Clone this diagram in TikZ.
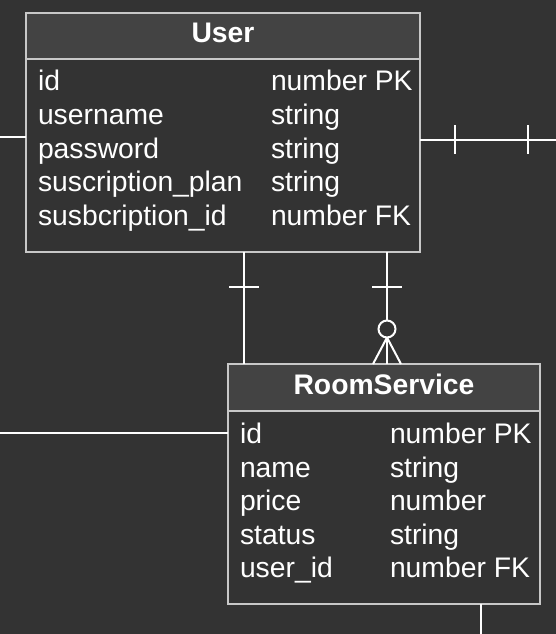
\documentclass[tikz,border=0pt]{standalone}
\usepackage{fontspec}
\setmainfont{Liberation Sans}
\begin{document}
\begin{tikzpicture}[x=1pt,y=-1pt,
  every node/.style={inner sep=0pt,outer sep=0pt},
  entity/.style={draw=bordergray,line width=2pt,fill=bodyfill},
  header/.style={draw=bordergray,line width=2pt,fill=headfill},
  conn/.style={draw=white,line width=2pt},
  tick/.style={draw=white,line width=2.5pt},
  field/.style={anchor=base west,text=white,font=\fontsize{28.3}{34}\selectfont},
  title/.style={anchor=base,text=white,font=\fontsize{28.3}{34}\selectfont\bfseries}]
\definecolor{bg}{HTML}{333333}
\definecolor{bodyfill}{HTML}{333333}
\definecolor{headfill}{HTML}{434343}
\definecolor{bordergray}{HTML}{C8C8C8}
\fill[bg] (0,0) rectangle (556,634);
\useasboundingbox (0,0) rectangle (556,634);
% User entity
\node[entity,minimum width=394pt,minimum height=239pt] (user) at (223,132.5) {};
\node[header,minimum width=394pt,minimum height=46pt] (userh) at (223,36) {};
\node[title] (usert) at (223,42.5) {User};
\node[field] (u1a) at (38,90.5) {id};
\node[field] (u1b) at (271,90.5) {number PK};
\node[field] (u2a) at (38,124.5) {username};
\node[field] (u2b) at (271,124.5) {string};
\node[field] (u3a) at (38,158) {password};
\node[field] (u3b) at (271,158) {string};
\node[field] (u4a) at (38,191.5) {suscription\_plan};
\node[field] (u4b) at (271,191.5) {string};
\node[field] (u5a) at (38,225) {susbcription\_id};
\node[field] (u5b) at (271,225) {number FK};
% RoomService entity
\node[entity,minimum width=312pt,minimum height=240pt] (rs) at (384,484) {};
\node[header,minimum width=312pt,minimum height=47pt] (rsh) at (384,387.5) {};
\node[title] (rst) at (384,394.5) {RoomService};
\node[field] (r1a) at (240,443.5) {id};
\node[field] (r1b) at (390,443.5) {number PK};
\node[field] (r2a) at (240,477) {name};
\node[field] (r2b) at (390,477) {string};
\node[field] (r3a) at (240,510.5) {price};
\node[field] (r3b) at (390,510.5) {number};
\node[field] (r4a) at (240,544) {status};
\node[field] (r4b) at (390,544) {string};
\node[field] (r5a) at (240,577.5) {user\_id};
\node[field] (r5b) at (390,577.5) {number FK};
% free ends
\coordinate (lu) at (0,137);
\coordinate (ru) at (556,139.5);
\coordinate (lr) at (0,433);
\coordinate (br) at (481,634);
\coordinate (v1) at (244,0);
\coordinate (v2) at (387,0);
% left of User
\draw[conn] (lu) -- (lu -| user.west);
% right of User with two bars
\draw[conn] (ru -| user.east) -- (ru);
\draw[tick] (455,125) -- (455,154);
\draw[tick] (528,125) -- (528,154);
% User to RoomService, one-one
\draw[conn] (v1 |- user.south) -- (v1 |- rs.north);
\draw[tick] (229,287) -- (259,287);
% User to RoomService, one to zero-or-many
\draw[conn] (v2 |- user.south) -- (387,320.5);
\draw[tick] (372,287) -- (402,287);
\draw[conn] (387,329) circle (8.5);
\draw[conn] (387,337.5) -- (v2 |- rs.north);
\draw[conn] (387,337.5) -- (373,364);
\draw[conn] (387,337.5) -- (401,364);
% left of RoomService
\draw[conn] (lr) -- (lr -| rs.west);
% below RoomService
\draw[conn] (br |- rs.south) -- (br);
\end{tikzpicture}
\end{document}
